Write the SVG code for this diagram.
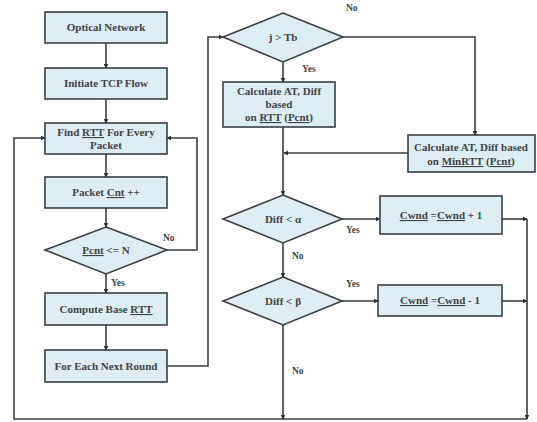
<svg xmlns="http://www.w3.org/2000/svg" width="537" height="422" viewBox="0 0 537 422">
<style>
.box{fill:#dcedf3;stroke:#3a3f44;stroke-width:1.6}
.t{font-family:"Liberation Serif",serif;font-weight:bold;font-size:11px;fill:#3d4448;text-anchor:middle}
.l{font-family:"Liberation Serif",serif;font-weight:bold;font-size:9.5px;fill:#3d4448}
.c{fill:none;stroke:#3a3f44;stroke-width:1.6}
.u{text-decoration:underline}
</style>
<defs>
<marker id="a" viewBox="0 0 8 8" refX="7" refY="4" markerWidth="5" markerHeight="5" orient="auto" markerUnits="userSpaceOnUse">
<path d="M0,0 L8,4 L0,8 z" fill="#2a2e32"/>
</marker>
</defs>
<rect width="537" height="422" fill="#ffffff"/>
<g id="connectors">
<path class="c" d="M106,43 V68" marker-end="url(#a)"/>
<path class="c" d="M106,99 V123" marker-end="url(#a)"/>
<path class="c" d="M106,154 V177" marker-end="url(#a)"/>
<path class="c" d="M106,208 V227" marker-end="url(#a)"/>
<path class="c" d="M106,274 V293" marker-end="url(#a)"/>
<path class="c" d="M106,325 V350" marker-end="url(#a)"/>
<path class="c" d="M167,250 H197 V138 H167" marker-end="url(#a)"/>
<path class="c" d="M527,419 H14 V138 H45" marker-end="url(#a)"/>
<path class="c" d="M167,366 H208 V37 H223" marker-end="url(#a)"/>
<path class="c" d="M283,62 V82" marker-end="url(#a)"/>
<path class="c" d="M343,37 H475 V135" marker-end="url(#a)"/>
<path class="c" d="M283,127 V195" marker-end="url(#a)"/>
<path class="c" d="M408,153 H284" marker-end="url(#a)"/>
<path class="c" d="M342,219 H380" marker-end="url(#a)"/>
<path class="c" d="M502,219 H527" marker-end="url(#a)"/>
<path class="c" d="M283,243 V277" marker-end="url(#a)"/>
<path class="c" d="M342,301 H378" marker-end="url(#a)"/>
<path class="c" d="M502,301 H527" marker-end="url(#a)"/>
<path class="c" d="M283,325 V419" marker-end="url(#a)"/>
<path class="c" d="M527,219 V419" marker-end="url(#a)"/>
<text class="l" x="163" y="241">No</text>
<text class="l" x="111" y="286">Yes</text>
<text class="l" x="346" y="11">No</text>
<text class="l" x="302" y="72">Yes</text>
<text class="l" x="346" y="233">Yes</text>
<text class="l" x="292" y="259">No</text>
<text class="l" x="346" y="287">Yes</text>
<text class="l" x="292" y="374">No</text>
</g>
<g id="optical-network"><rect class="box" x="45" y="12" width="122" height="31"/><text class="t" x="106" y="31">Optical Network</text></g>
<g id="initiate-tcp"><rect class="box" x="45" y="68" width="122" height="31"/><text class="t" x="106" y="87">Initiate TCP Flow</text></g>
<g id="find-rtt"><rect class="box" x="45" y="123" width="122" height="31"/><text class="t" x="106" y="136">Find <tspan class="u">RTT</tspan> For Every</text><text class="t" x="106" y="149">Packet</text></g>
<g id="packet-cnt"><rect class="box" x="45" y="177" width="122" height="31"/><text class="t" x="106" y="196">Packet <tspan class="u">Cnt</tspan> ++</text></g>
<g id="pcnt-n"><polygon class="box" points="106,227 167,250 106,274 45,250"/><text class="t" x="106" y="254"><tspan class="u">Pcnt</tspan> &lt;= N</text></g>
<g id="compute-base"><rect class="box" x="45" y="293" width="122" height="32"/><text class="t" x="106" y="313">Compute Base <tspan class="u">RTT</tspan></text></g>
<g id="next-round"><rect class="box" x="45" y="350" width="122" height="32"/><text class="t" x="106" y="370">For Each Next Round</text></g>
<g id="j-tb"><polygon class="box" points="283,13 343,37 283,62 223,37"/><text class="t" x="283" y="41">j &gt; Tb</text></g>
<g id="calc-rtt"><rect class="box" x="223" y="82" width="112" height="45"/><text class="t" x="279" y="95">Calculate AT, Diff</text><text class="t" x="279" y="108">based</text><text class="t" x="279" y="121">on <tspan class="u">RTT</tspan> (<tspan class="u">Pcnt</tspan>)</text></g>
<g id="calc-minrtt"><rect class="box" x="408" y="135" width="127" height="37"/><text class="t" x="471" y="151">Calculate AT, Diff based</text><text class="t" x="471" y="165">on <tspan class="u">MinRTT</tspan> (<tspan class="u">Pcnt</tspan>)</text></g>
<g id="diff-alpha"><polygon class="box" points="283,195 342,219 283,243 223,219"/><text class="t" x="283" y="223">Diff &lt;  α</text></g>
<g id="cwnd-plus"><rect class="box" x="380" y="196" width="122" height="38"/><text class="t" x="441" y="219"><tspan class="u">Cwnd</tspan> =<tspan class="u">Cwnd</tspan> + 1</text></g>
<g id="diff-beta"><polygon class="box" points="283,277 342,301 283,325 223,301"/><text class="t" x="283" y="305">Diff &lt; β</text></g>
<g id="cwnd-minus"><rect class="box" x="378" y="285" width="124" height="31"/><text class="t" x="440" y="304"><tspan class="u">Cwnd</tspan> =<tspan class="u">Cwnd</tspan> - 1</text></g>
</svg>
